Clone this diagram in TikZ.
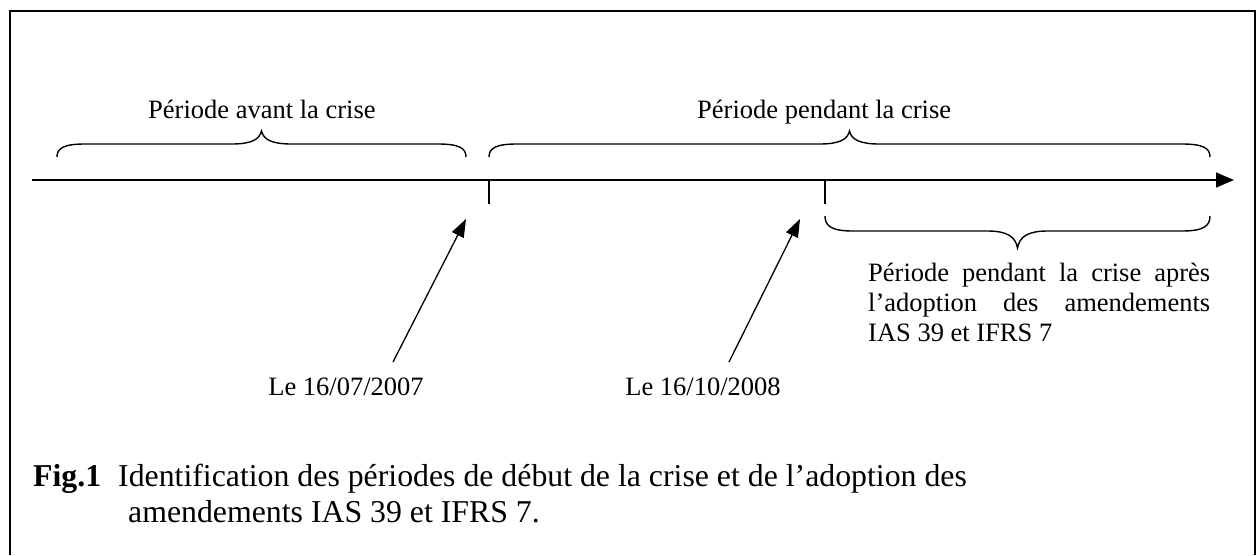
\documentclass[tikz,border=0pt]{standalone}
\usepackage{fontspec}
\setmainfont{Liberation Serif}
\usetikzlibrary{arrows.meta}
% brace: #1=x start, #2=x end, #3=y of ends, #4=y of flat part, #5=y of tip
\newcommand\tlbrace[5]{%
  \draw[brc] (#1,#3) .. controls (#1,{#4+0.35*(#3-#4)}) and ({#1+6},#4) .. ({#1+28},#4)
    -- ({(#1+#2)/2-30},#4) .. controls ({(#1+#2)/2-10},#4) and ({(#1+#2)/2-2},{#4-0.35*(#4-#5)}) .. ({(#1+#2)/2},#5)
    .. controls ({(#1+#2)/2+2},{#4-0.35*(#4-#5)}) and ({(#1+#2)/2+10},#4) .. ({(#1+#2)/2+30},#4)
    -- ({#2-28},#4) .. controls ({#2-6},#4) and (#2,{#4+0.35*(#3-#4)}) .. (#2,#3);}
\tikzset{
  txt/.style={inner sep=0pt, font=\fontsize{26.5}{30.4}\selectfont},
  captxt/.style={inner sep=0pt, font=\fontsize{31.8}{36}\selectfont},
  frame/.style={line width=1.6pt},
  axis/.style={line width=1.6pt, -{Triangle[length=18pt,width=15pt]}},
  tickline/.style={line width=1.6pt},
  brc/.style={line width=1.4pt},
  ptr/.style={line width=1.3pt, -{Triangle[length=18pt,width=13pt]}}
}
\begin{document}
\begin{tikzpicture}[x=1pt,y=-1pt]
\useasboundingbox (0,0) rectangle (1259,555);
% frame (open at the bottom)
\draw[frame] (10,555) -- (10,11) -- (1255,11) -- (1255,555);
% time axis
\coordinate (axs) at (32,180);
\coordinate (axe) at (1234,180);
\draw[axis] (axs) -- (axe);
% ticks
\coordinate (t1a) at (489,180); \coordinate (t1b) at (489,204);
\coordinate (t2a) at (825,180); \coordinate (t2b) at (825,204);
\draw[tickline] (t1a) -- (t1b);
\draw[tickline] (t2a) -- (t2b);
% braces
\tlbrace{57}{466}{157}{144}{131}
\tlbrace{489}{1210}{157}{144}{131}
\tlbrace{825}{1210}{216}{231}{248}
% period labels
\node[txt, anchor=base west] (avant) at (148,118) {Période avant la crise};
\node[txt, anchor=base west] (pendant) at (697,118) {Période pendant la crise};
\node[txt, anchor=base west] (apres1) at (868,281) {\makebox[342pt][s]{Période pendant la crise après}};
\node[txt, anchor=base west] (apres2) at (868,311) {\makebox[342pt][s]{l’adoption des amendements}};
\node[txt, anchor=base west] (apres3) at (868,341) {IAS 39 et IFRS 7};
% dates
\node[txt, anchor=base] (d1) at (346,395) {Le 16/07/2007};
\node[txt, anchor=base] (d2) at (703,395) {Le 16/10/2008};
\coordinate (p1s) at (393,362); \coordinate (p1e) at (466,219);
\coordinate (p2s) at (729,362); \coordinate (p2e) at (800,219);
\draw[ptr] (p1s) -- (p1e);
\draw[ptr] (p2s) -- (p2e);
% caption
\node[captxt, anchor=base west] (fig) at (33,486) {\textbf{Fig.1}};
\node[captxt, anchor=base west] (cap1) at (118,486) {Identification des périodes de début de la crise et de l’adoption des};
\node[captxt, anchor=base west] (cap2) at (128,522) {amendements IAS 39 et IFRS 7.};
\end{tikzpicture}
\end{document}
